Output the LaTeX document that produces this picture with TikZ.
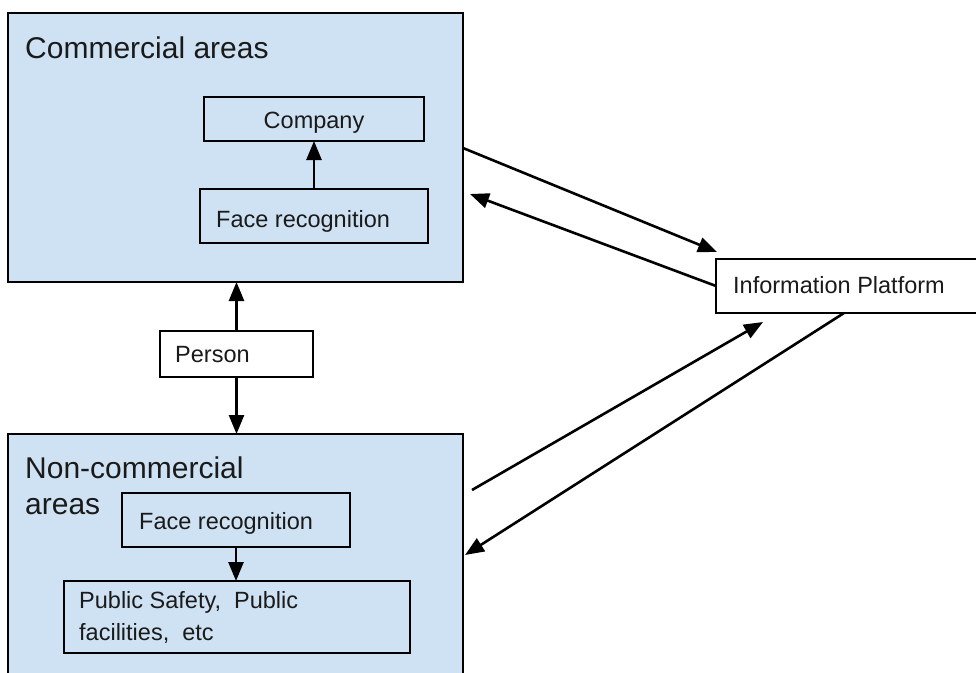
\documentclass[tikz,border=0pt]{standalone}
\usepackage{fontspec}
\setmainfont{Liberation Sans}
\usetikzlibrary{arrows.meta,calc}
\definecolor{areablue}{HTML}{CFE2F3}
\definecolor{ink}{HTML}{1A1A1A}
\tikzset{
  box/.style={draw=black, line width=2.8pt, rectangle, outer sep=0pt, inner sep=0pt, anchor=north west},
  area/.style={box, fill=areablue},
  plain/.style={box, fill=white},
  bigtxt/.style={anchor=base west, inner sep=0pt, text=ink, font=\fontsize{30}{36}\selectfont},
  smalltxt/.style={anchor=base west, inner sep=0pt, text=ink, font=\fontsize{23.5}{32}\selectfont},
  link/.style={line width=2.6pt, -{Triangle[length=19pt,width=15pt]}},
}
\begin{document}
\begin{tikzpicture}[x=1pt,y=-1pt]
\useasboundingbox (0,0) rectangle (976,672);
\clip (0,0) rectangle (976,672);

% commercial side
\node[area, minimum width=455pt, minimum height=269pt] (comm) at (8,13) {};
\node[bigtxt] (commT) at (25,58) {Commercial areas};
\node[area, minimum width=220pt, minimum height=44pt] (company) at (204,97) {};
\node[smalltxt, anchor=base] (companyT) at (314,128) {Company};
\node[area, minimum width=228pt, minimum height=54pt] (frA) at (200,189) {};
\node[smalltxt] (frAT) at (216,227) {Face recognition};

% person
\node[plain, minimum width=153pt, minimum height=46pt] (person) at (160,331) {};
\node[smalltxt] (personT) at (175,362) {Person};

% non-commercial side
\node[area, minimum width=455pt, minimum height=300pt] (noncomm) at (8,434) {};
\node[bigtxt] (noncommT1) at (25,478) {Non-commercial};
\node[bigtxt] (noncommT2) at (25,514) {areas};
\node[area, minimum width=228pt, minimum height=54pt] (frB) at (122,493) {};
\node[smalltxt] (frBT) at (139,529) {Face recognition};
\node[area, minimum width=346pt, minimum height=72pt] (public) at (64,581) {};
\node[smalltxt] (publicT1) at (79,608) {Public Safety,\ \ Public};
\node[smalltxt] (publicT2) at (79,640) {facilities,\ \ etc};

% information platform
\node[plain, minimum width=300pt, minimum height=54pt] (info) at (716,259) {};
\node[smalltxt] (infoT) at (733,293) {Information Platform};

% connectors
\draw[link] (frA.north) -- (frA.north |- company.south);
\draw[link] (person.north) -- (person.north |- comm.south);
\draw[link] (person.south) -- (person.south |- noncomm.north);
\draw[link] (frB.south) -- (frB.south |- public.north);

\coordinate (c1) at ($(comm.north east)+(0,135)$);
\coordinate (c2) at ($(comm.north east)+(7,181)$);
\coordinate (n1) at ($(noncomm.north east)+(9,56)$);
\coordinate (n2) at ($(noncomm.north east)+(2,121)$);
\coordinate (i1) at ($(info.north west)+(1,-7)$);
\coordinate (i3) at ($(info.south west)+(47,9)$);
\coordinate (i4) at ($(info.south west)+(128,0)$);

\draw[link] (c1) -- (i1);
\draw[link] (info.west) -- (c2);
\draw[link] (n1) -- (i3);
\draw[link] (i4) -- (n2);
\end{tikzpicture}
\end{document}
